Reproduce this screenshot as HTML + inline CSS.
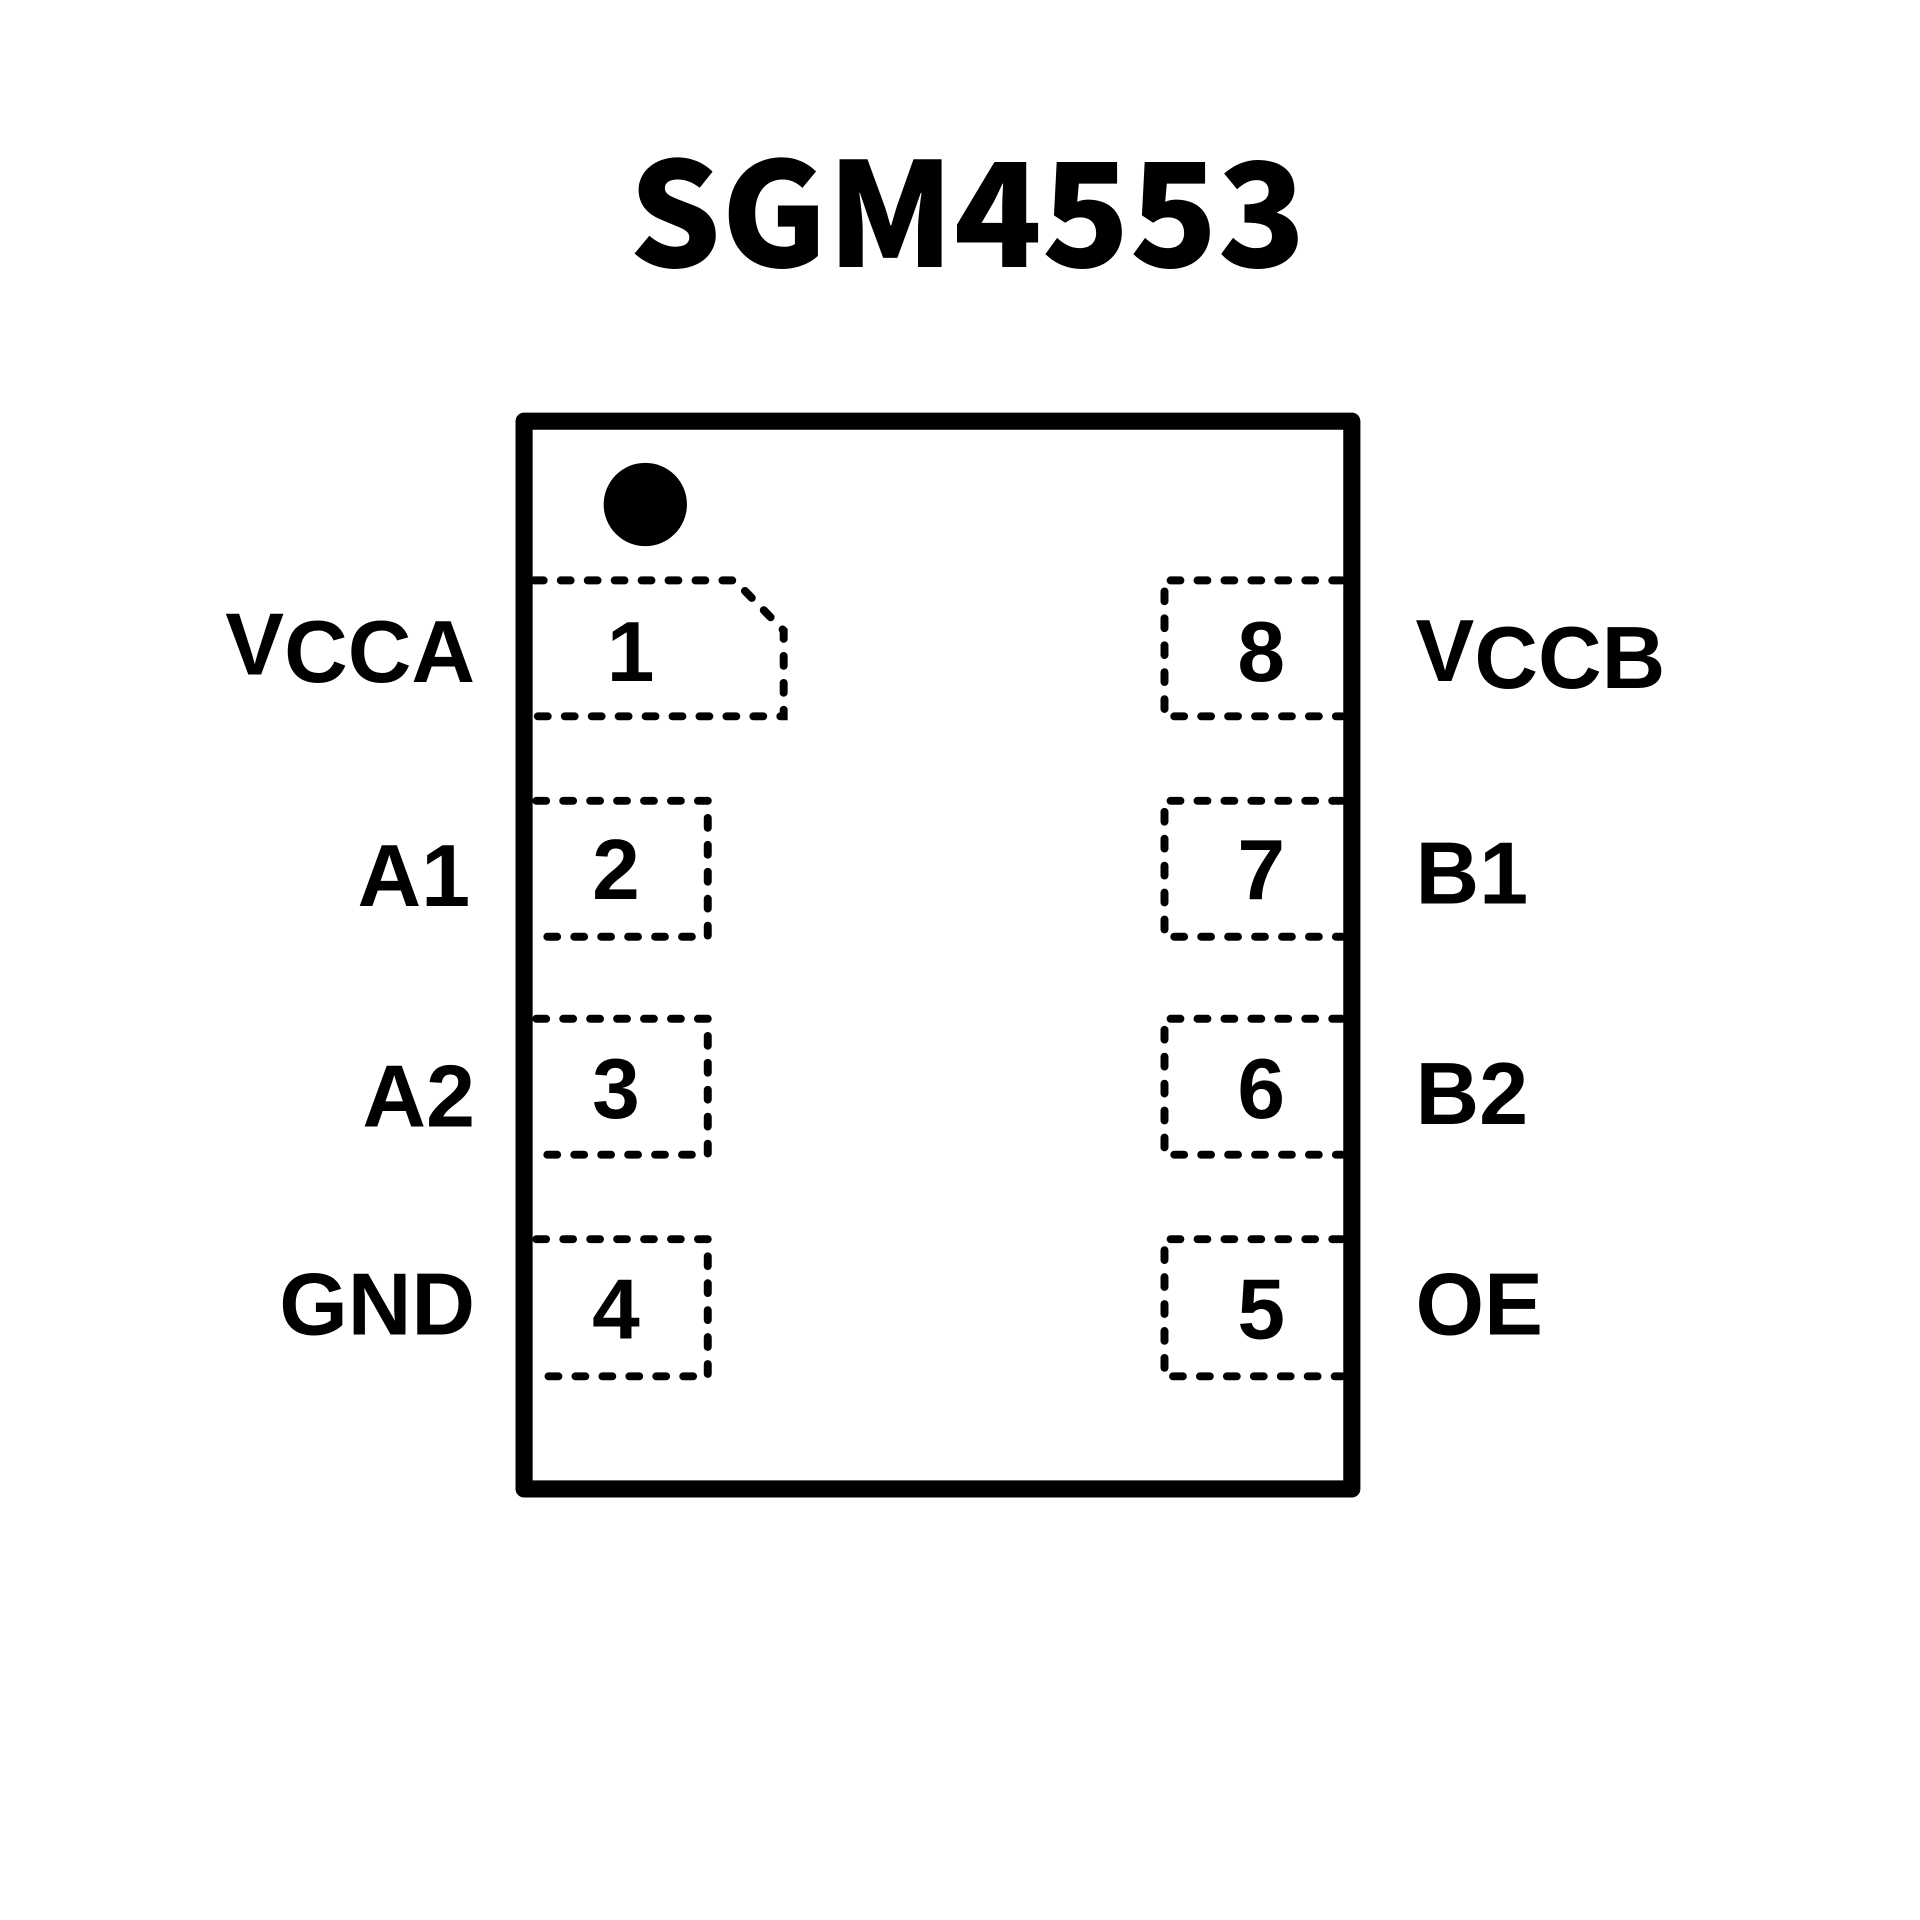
<!DOCTYPE html>
<html><head><meta charset="utf-8"><style>
html,body{margin:0;padding:0;background:#fff;}
svg{display:block;}
text{font-family:"Liberation Sans",Arial,sans-serif;font-weight:bold;fill:#000;}
</style></head><body>
<svg width="1920" height="1920" viewBox="0 0 1568 1568" xmlns="http://www.w3.org/2000/svg">
<text x="790" y="218" font-size="118" text-anchor="middle" style="font-family:'Noto Sans CJK SC','Liberation Sans',sans-serif;font-weight:900">SGM4553</text>
<rect x="428" y="344" width="676" height="872" fill="none" stroke="#000" stroke-width="14" stroke-linejoin="round"/>
<circle cx="527" cy="412" r="34" fill="#000"/>
<g fill="none" stroke="#000" stroke-width="6.5" stroke-dasharray="8 14" stroke-linecap="round">
<path d="M436 474 H600 L640 515 V585 H436"/>
<path d="M438 654 H578 V765 H438"/>
<path d="M438 832 H578 V943 H438"/>
<path d="M438 1012 H578 V1124 H438"/>
<path d="M1096 474 H951 V585 H1096"/>
<path d="M1096 654 H951 V765 H1096"/>
<path d="M1096 832 H951 V943 H1096"/>
<path d="M1096 1012 H951 V1124 H1096"/>
</g>
<g font-size="70" text-anchor="middle">
<text x="515" y="556">1</text>
<text x="503" y="734">2</text>
<text x="503" y="913">3</text>
<text x="503" y="1093">4</text>
<text x="1030" y="556">8</text>
<text x="1030" y="734">7</text>
<text x="1030" y="913">6</text>
<text x="1030" y="1093">5</text>
</g>
<g font-size="72" text-anchor="end">
<text x="388" y="557"><tspan dy="-6">V</tspan><tspan dy="6">CCA</tspan></text>
<text x="384" y="740">A1</text>
<text x="388" y="920">A2</text>
<text x="388" y="1090">GND</text>
</g>
<g font-size="72">
<text x="1156" y="562"><tspan dy="-6">V</tspan><tspan dy="6">CCB</tspan></text>
<text x="1156" y="738">B1</text>
<text x="1156" y="918">B2</text>
<text x="1156" y="1090">OE</text>
</g>
</svg>
</body></html>
